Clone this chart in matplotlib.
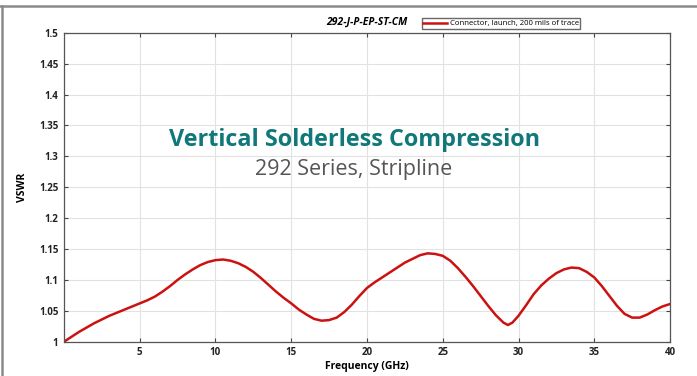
import numpy as np
import matplotlib.pyplot as plt
from matplotlib.lines import Line2D

# values
freq_ghz = [0, 0.5, 1, 1.5, 2, 2.5, 3, 3.5, 4, 4.5, 5, 5.5, 6, 6.5, 7, 7.5, 8, 8.5, 9, 9.5,
            10, 10.5, 11, 11.5, 12, 12.5, 13, 13.5, 14, 14.5, 15, 15.5, 16, 16.5, 17, 17.5,
            18, 18.5, 19, 19.5, 20, 20.5, 21, 21.5, 22, 22.5, 23, 23.5, 24, 24.5, 25, 25.5,
            26, 26.5, 27, 27.5, 28, 28.5, 29, 29.3, 29.6, 30, 30.5, 31, 31.5, 32, 32.5, 33,
            33.5, 34, 34.5, 35, 35.5, 36, 36.5, 37, 37.5, 38, 38.5, 39, 39.5, 40]
vswr = [1.000, 1.008, 1.016, 1.023, 1.030, 1.036, 1.042, 1.047, 1.052, 1.057, 1.062, 1.067,
        1.073, 1.081, 1.090, 1.100, 1.109, 1.117, 1.124, 1.129,
        1.132, 1.133, 1.131, 1.127, 1.121, 1.113, 1.103, 1.092, 1.081, 1.071, 1.062, 1.052,
        1.044, 1.037, 1.034, 1.035,
        1.039, 1.048, 1.060, 1.074, 1.087, 1.096, 1.104, 1.112, 1.120, 1.128, 1.134, 1.140,
        1.143, 1.142, 1.139, 1.131,
        1.119, 1.105, 1.090, 1.074, 1.058, 1.043, 1.031, 1.027, 1.031, 1.042, 1.059, 1.077,
        1.091, 1.102, 1.111, 1.117,
        1.120, 1.119, 1.113, 1.104, 1.090, 1.074, 1.058, 1.045, 1.039, 1.039, 1.044, 1.051,
        1.057, 1.061]
x_ticks = [5, 10, 15, 20, 25, 30, 35, 40]
y_ticks = [1, 1.05, 1.1, 1.15, 1.2, 1.25, 1.3, 1.35, 1.4, 1.45, 1.5]
y_tick_labels = ['1', '1.05', '1.1', '1.15', '1.2', '1.25', '1.3', '1.35', '1.4', '1.45', '1.5']

plt.rcParams['font.family'] = ['Open Sans', 'DejaVu Sans']

fig = plt.figure(figsize=(6.97, 3.76), dpi=100)
ax = fig.add_axes([0.0918, 0.0912, 0.8695, 0.8218])

ax.plot(freq_ghz, vswr, color='#cc1111', linewidth=1.8,
        label='Connector, launch, 200 mils of trace')

ax.set_xlim(0, 40)
ax.set_ylim(1, 1.5)
ax.set_xticks(x_ticks)
ax.set_yticks(y_ticks)
ax.set_yticklabels(y_tick_labels)
ax.tick_params(direction='in', top=True, right=True, length=3, width=0.8,
               color='#444444', labelsize=7, pad=4)
for lbl in ax.get_xticklabels() + ax.get_yticklabels():
    lbl.set_fontweight('bold')
    lbl.set_color('#222222')
ax.grid(True, color='#e2e2e2', linewidth=0.8)
ax.set_axisbelow(True)
for s in ax.spines.values():
    s.set_color('#555555')
    s.set_linewidth(0.9)

ax.set_xlabel('Frequency (GHz)', fontsize=7.5, fontweight='bold', labelpad=2)
ax.set_ylabel('VSWR', fontsize=7.5, fontweight='bold', labelpad=8)

fig.text(0.527, 0.942, '292-J-P-EP-ST-CM', fontsize=7.5, fontweight='bold',
         style='italic', ha='center', va='center')
fig.legend(loc='center left', bbox_to_anchor=(0.605, 0.937), fontsize=5.6,
           frameon=True, fancybox=False, edgecolor='#444444', handlelength=3.0,
           borderpad=0.2, handletextpad=0.4, borderaxespad=0)

# overlay caption
fig.text(0.508, 0.612, 'Vertical Solderless Compression', fontsize=16.8,
         fontweight='bold', color='#11787a', ha='center', va='baseline',
         family=['Open Sans', 'DejaVu Sans'])
fig.text(0.508, 0.535, '292 Series, Stripline', fontsize=15.5,
         color='#555555', ha='center', va='baseline',
         family=['Open Sans', 'DejaVu Sans'])

# outer frame (top and left edges)
fig.add_artist(Line2D([0, 1], [0.984, 0.984], transform=fig.transFigure,
                      color='#8a8a8a', linewidth=1.8))
fig.add_artist(Line2D([0.003, 0.003], [0, 0.984], transform=fig.transFigure,
                      color='#8a8a8a', linewidth=1.8))

fig.savefig('out.png', dpi=100)
